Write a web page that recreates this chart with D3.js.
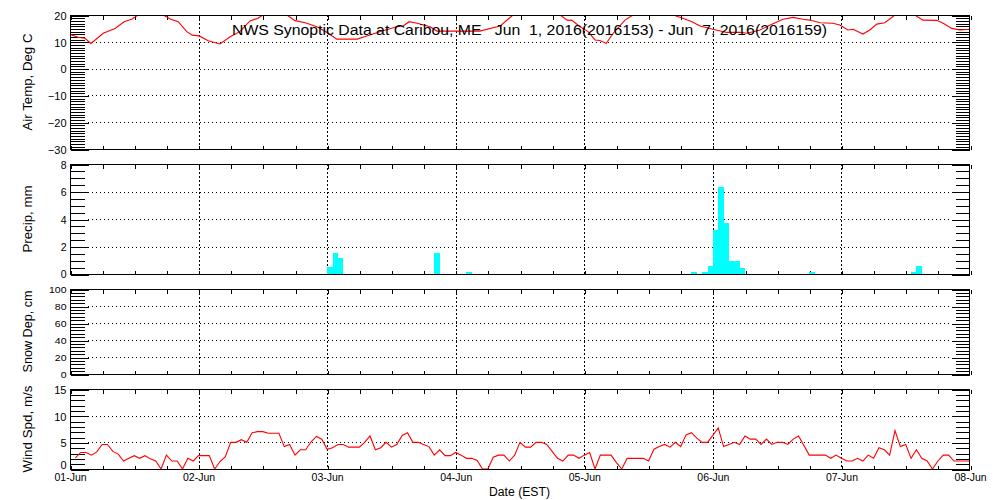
<!DOCTYPE html>
<html><head><meta charset="utf-8">
<script src="https://cdn.jsdelivr.net/npm/d3@7"></script>
<style>
body{margin:0;background:#fff}
svg text{font-family:"Liberation Sans",Arial,sans-serif;fill:#000}
</style>
</head><body>
<svg id="chart" width="1000" height="500"></svg>
<script>
// ---------------- DATA ----------------
const titleText = "NWS Synoptic Data at Caribou, ME   Jun  1, 2016(2016153) - Jun  7, 2016(2016159)";
const dayLabels = ["01-Jun","02-Jun","03-Jun","04-Jun","05-Jun","06-Jun","07-Jun","08-Jun"];
const xTitle = "Date (EST)";
const panelTitles = ["Air Temp, Deg C","Precip, mm","Snow Dep, cm","Wind Spd, m/s"];

// hours after 2016-06-01 00:00 EST
const tempHours = [0,1.5,2.8,3.9,6.2,8.4,10.1,11.6,12.7,15,17.4,18.7,20.2,21.8,22.8,24.1,25.8,28,29.9,31.7,
  33.6,35.1,36,38.3,40.5,42,43.9,46.1,48.2,49.8,53.6,55.4,58.4,61,62.2,63.3,64.8,67.2,68.5,73.4,
  76.5,80.3,82.7,87,91.5,92.8,93.7,95.2,96.7,98,98.9,100.1,101.4,103.6,105.1,108.8,112.6,114.4,116.1,117.6,
  120,122.6,125.1,126.4,128.8,130.7,133.1,135,136.8,138.1,140,142.4,143.7,145.2,146.2,148,149.3,150.6,152.1,154,
  155.9,157.7,159.2,161.8,163,164.6,166.1,168];
const tempValues = [12.8,11.7,11.3,9.4,13.2,15.0,17.5,18.5,20,22,20,18.5,17.5,13.8,12.5,12.2,10.4,9.2,11.9,13.8,
  17.8,18.8,20,22.5,20,17.9,17.1,15.6,13.2,11,11,12.2,14.1,15.6,15.9,17.5,16.9,15.6,14,14,
  14,15.9,20,22.5,20,18.1,18,15.6,13.8,10.7,10.5,9.4,13.2,18.1,20,22.5,20,18.8,17.5,15.9,
  14.7,13.5,13.5,13.2,14.4,16.3,18.4,19.1,18.4,18.1,17.1,16.9,16.3,14.4,14.7,12.9,14.4,16.6,17.1,20,
  21,20,18.1,18,16.9,15.0,14.4,14.7];

const precipHours  = [48,49,50,68,74,116,118,119,120,121,122,123,124,125,138,157,158];
const precipValues = [0.5,1.5,1.2,1.5,0.15,0.15,0.15,0.6,3.2,6.3,3.7,0.95,0.95,0.45,0.15,0.15,0.6];

const snowHours = [];
const snowValues = [];

const windHours = [1,2,3,4,5,6,7,8,9,10,11,12,13,14,15,16,17,18,19,20,21,22,23,24,26,27,28,29,30,31,32,33,34,35,36,37,39,
  40,41,42,43,44,45,46,47,48,49,50,51,52,54,55,56,57,58,59,60,61,62,63,64,65,66,67,68,69,70,71,72,73,74,75,76,77,78,79,
  80,81,82,83,84,85,86,87,88,89,90,91,92,93,94,95,96,97,98,99,101,102,103,104,107,108,109,110,111,112,113,114,115,116,117,118,119,
  120,121,122,123,124,125,126,127,128,129,130,131,132,133,134,135,136,138,141,142,143,144,145,146,147,148,149,150,151,152,153,154,155,156,157,158,159,
  160,161,162,163,164,165,168];
const windValues = [2.1,3.1,3.1,2.6,3.2,4.6,4.6,3.3,2.8,1.5,2.0,2.5,2.0,2.5,1.9,1.5,0,2.6,1.5,1.5,0,2.0,1.5,2.5,2.5,0,1.4,2.3,5.0,5.0,5.5,5.0,6.8,7.0,7.0,6.7,6.7,
  4.2,4.6,2.6,3.6,3.6,5.1,6.1,5.6,3.7,4.0,4.6,4.6,4.1,4.1,5.0,6.2,3.6,4.0,5.0,4.1,4.6,6.3,6.8,5.0,5.0,4.6,4.2,2.6,3.6,2.5,2.5,3.1,2.6,2.0,2.0,1.6,0,0,2.2,
  2.6,2.6,1.5,2.6,5.0,4.1,4.1,5.0,5.0,4.6,3.3,2.0,1.5,2.6,2.6,2.0,2.6,3.1,0,2.6,2.6,1.2,0,2.0,2.0,1.5,3.7,4.2,4.6,4.1,5.0,4.2,6.4,6.8,5.8,5.0,5.0,
  6.3,7.7,4.2,4.6,5.0,4.6,6.2,5.6,5.6,4.6,5.6,4.6,5.0,5.0,4.6,5.6,6.2,2.6,2.6,2.0,2.6,2.0,1.5,1.5,2.0,1.5,2.6,2.0,4.0,3.6,2.6,7.2,4.2,4.6,2.0,3.6,2.0,
  1.5,0,1.5,2.6,2.6,1.5,1.5];

const tempTicks = [-30,-20,-10,0,10,20];
const precipTicks = [0,2,4,6,8];
const snowTicks = [0,20,40,60,80,100];
const windTicks = [0,5,10,15];

// ---------------- LAYOUT ----------------
const svg = d3.select("#chart");
const X0 = 70, X1 = 970;
const t0 = Date.UTC(2016,5,1);
const hr = h => new Date(t0 + h*3600000);
const x = d3.scaleUtc().domain([hr(0), hr(168)]).range([X0, X1]);

const panels = [
  {title: panelTitles[0], top:15,  bottom:149, domain:[-30,20], ticks:tempTicks,   minorStep:1,   fs:11, sy:0.95, tlen:97, lift:0},
  {title: panelTitles[1], top:164, bottom:274, domain:[0,8],    ticks:precipTicks, minorStep:0.5, fs:10.5, sy:1.0, tlen:67, lift:-1},
  {title: panelTitles[2], top:289, bottom:374, domain:[0,100],  ticks:snowTicks,   minorStep:4,   fs:10.5, sy:0.8, tlen:82, lift:0},
  {title: panelTitles[3], top:389, bottom:469, domain:[0,15],   ticks:windTicks,   minorStep:1,   fs:11, sy:1.0, tlen:87, lift:-5}
];

const sixHourTicks = d3.range(0, 169, 6).map(hr);
const dayTicks = d3.range(0, 8).map(d => hr(d*24));

panels.forEach((p, i) => {
  const y = d3.scaleLinear().domain(p.domain).range([p.bottom, p.top]);
  p.y = y;
  const g = svg.append("g");
  const lo = p.domain[0], hi = p.domain[1];
  const minors = d3.range(lo, hi + 1e-9, p.minorStep).filter(v => !p.ticks.some(t => Math.abs(t - v) < 1e-9));
  const interior = p.ticks.filter(v => v > lo && v < hi);

  // horizontal dotted grid
  g.selectAll("line.hg").data(interior).join("line")
    .attr("x1", X0 + 18).attr("x2", X1 - 18)
    .attr("y1", d => Math.round(y(d)) + 0.5).attr("y2", d => Math.round(y(d)) + 0.5)
    .attr("stroke", "#000").attr("stroke-dasharray", "1,3").attr("shape-rendering","crispEdges");
  // vertical dashed day lines
  g.selectAll("line.vg").data(dayTicks.slice(1, 7)).join("line")
    .attr("x1", d => Math.round(x(d)) + 0.5).attr("x2", d => Math.round(x(d)) + 0.5)
    .attr("y1", p.top).attr("y2", p.bottom)
    .attr("stroke", "#000").attr("stroke-dasharray", "2,2").attr("shape-rendering","crispEdges");

  // minor / major y ticks (left & right)
  const styleAxis = sel => { sel.select(".domain").remove(); sel.selectAll("line").attr("stroke","#000").attr("shape-rendering","crispEdges"); };
  g.append("g").attr("transform", `translate(${X0 + 0.5},0.5)`)
    .call(d3.axisLeft(y).tickValues(minors).tickSize(-14).tickFormat("")).call(styleAxis);
  g.append("g").attr("transform", `translate(${X1 - 0.5},0.5)`)
    .call(d3.axisRight(y).tickValues(minors).tickSize(-14).tickFormat("")).call(styleAxis);
  g.append("g").attr("transform", `translate(${X1 - 0.5},0.5)`)
    .call(d3.axisRight(y).tickValues(p.ticks).tickSize(-18).tickFormat("")).call(styleAxis);
  const la = g.append("g").attr("transform", `translate(${X0 + 0.5},0.5)`)
    .call(d3.axisLeft(y).tickValues(p.ticks).tickSize(-18).tickPadding(4).tickFormat(d3.format("d"))).call(styleAxis);
  la.attr("font-family", null).attr("font-size", null);
  la.selectAll("text").attr("font-size", p.fs)
    .attr("dy", null).attr("y", p.fs * 0.36)
    .attr("transform", (d, k) => `translate(0,${d === lo ? p.lift : 0}) scale(1,${p.sy})`)
    .text(d => d < 0 ? "\u2212" + Math.abs(d) : d);

  // 6-hour x ticks on top and bottom edges
  g.append("g").attr("transform", `translate(0.5,${p.top + 0.5})`)
    .call(d3.axisBottom(x).tickValues(sixHourTicks).tickSize(4).tickFormat("")).call(styleAxis);
  g.append("g").attr("transform", `translate(0.5,${p.bottom + 0.5})`)
    .call(d3.axisTop(x).tickValues(sixHourTicks).tickSize(4).tickFormat("")).call(styleAxis);

  // y title
  const cy = (p.top + p.bottom) / 2;
  svg.append("text").attr("transform", `translate(32,${cy}) rotate(-90)`)
    .attr("text-anchor", "middle").attr("font-size", 13)
    .attr("textLength", p.tlen).attr("lengthAdjust", "spacingAndGlyphs")
    .text(p.title);

  svg.append("clipPath").attr("id", "clip" + i).append("rect")
    .attr("x", X0).attr("y", p.top).attr("width", X1 - X0).attr("height", p.bottom - p.top);
});

// ---------------- MARKS ----------------
const tempData = tempHours.map((h, i) => [hr(h), tempValues[i]]);
const windData = windHours.map((h, i) => [hr(h), windValues[i]]);
const precipData = precipHours.map((h, i) => ({h, v: precipValues[i]}));

const pT = panels[0], pP = panels[1], pS = panels[2], pW = panels[3];

svg.append("path").datum(tempData)
  .attr("clip-path", "url(#clip0)")
  .attr("fill", "none").attr("stroke", "#ff0000").attr("stroke-width", 1.1)
  .attr("d", d3.line().x(d => x(d[0])).y(d => pT.y(d[1])));

svg.append("g").attr("clip-path", "url(#clip1)")
  .selectAll("rect").data(precipData).join("rect")
  .attr("x", d => x(hr(d.h)))
  .attr("width", d => x(hr(d.h + 1)) - x(hr(d.h)))
  .attr("y", d => pP.y(d.v))
  .attr("height", d => pP.y(0) - pP.y(d.v))
  .attr("fill", "#00ffff").attr("shape-rendering", "crispEdges");

svg.append("path").datum(snowHours.map((h, i) => [hr(h), snowValues[i]]))
  .attr("fill", "none").attr("stroke", "#ff0000")
  .attr("d", d3.line().x(d => x(d[0])).y(d => pS.y(d[1])));

svg.append("path").datum(windData)
  .attr("clip-path", "url(#clip3)")
  .attr("fill", "none").attr("stroke", "#ff0000").attr("stroke-width", 1.1)
  .attr("d", d3.line().x(d => x(d[0])).y(d => pW.y(d[1])));

// frames over marks
panels.forEach(p => {
  svg.append("rect").attr("x", X0 + 0.5).attr("y", p.top + 0.5)
    .attr("width", X1 - X0 - 1).attr("height", p.bottom - p.top)
    .attr("fill", "none").attr("stroke", "#000").attr("shape-rendering","crispEdges");
});

// x labels
const xa = svg.append("g").attr("transform", `translate(0,${pW.bottom})`)
  .call(d3.axisBottom(x).tickValues(dayTicks).tickSize(0).tickPadding(3).tickFormat((d, i) => dayLabels[i]));
xa.select(".domain").remove();
xa.attr("font-family", null).attr("font-size", null);
xa.selectAll("text").attr("font-size", 10.5).attr("dy", null).attr("y", 11.5);

svg.append("text").attr("x", 519.5).attr("y", 496).attr("text-anchor", "middle")
  .attr("font-size", 12.5).attr("textLength", 61).attr("lengthAdjust", "spacingAndGlyphs").text(xTitle);

// title
svg.append("text").attr("x", 232).attr("y", 35).attr("font-size", 14)
  .attr("xml:space", "preserve").style("white-space", "pre")
  .attr("textLength", 595).attr("lengthAdjust", "spacingAndGlyphs").text(titleText);
</script>
</body></html>
